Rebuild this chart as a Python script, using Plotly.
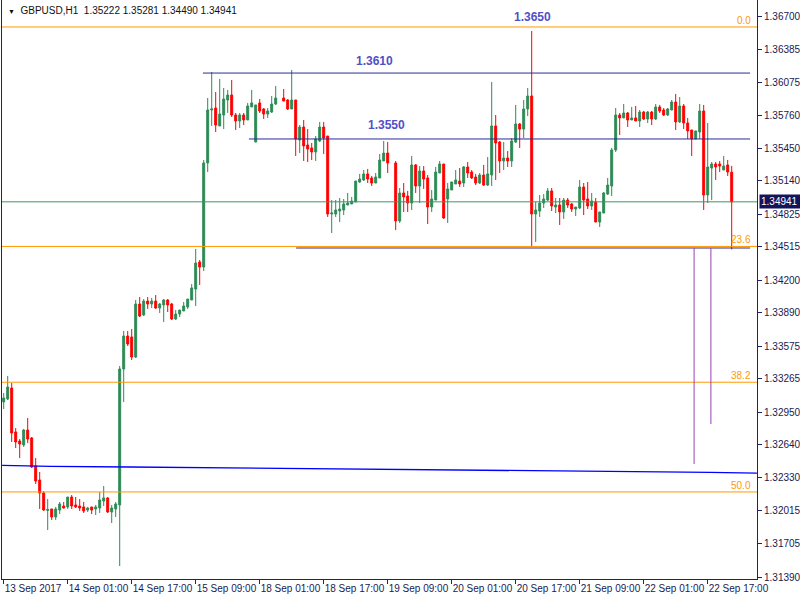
import plotly.graph_objects as go

# ---------------- data (GBPUSD H1) ----------------
opens = [1.33047,1.33075,1.33179,1.32763,1.32677,1.32640,1.32781,1.32706,1.32441,1.32308,
 1.32185,1.32020,1.32034,1.31958,1.32024,1.32062,1.32053,1.32147,1.32072,1.32062,
 1.32053,1.32024,1.32053,1.32034,1.32043,1.32109,1.32138,1.32005,1.32034,1.32072,
 1.33359,1.33671,1.33662,1.33472,1.33974,1.33870,1.34002,1.33974,1.34002,1.33936,
 1.33965,1.34012,1.33974,1.33832,1.33879,1.33908,1.33946,1.34012,1.34116,1.34372,
 1.34324,1.35309,1.35810,1.35829,1.35659,1.35763,1.35905,1.35952,1.35763,1.35706,
 1.35763,1.35716,1.35839,1.35507,1.35877,1.35820,1.35772,1.35791,1.35867,None,
 1.35924,1.35905,1.35820,1.35905,1.35526,1.35649,1.35479,1.35451,1.35413,1.35517,
 1.35649,1.35564,1.34826,1.34826,1.34854,1.34864,1.34911,1.34921,1.34940,1.35129,
 1.35148,1.35205,1.35167,1.35119,1.35167,1.35328,1.35403,None,1.35309,1.34760,
 1.35025,1.34996,1.34930,1.35290,1.35091,1.35233,1.35167,1.34892,1.34958,1.35214,
 1.35299,1.34968,1.35053,1.35110,1.35138,1.35119,1.35271,1.35223,1.35176,1.35119,
 1.35195,1.35100,1.35195,1.35659,1.35507,1.35328,1.35356,1.35328,1.35507,1.35678,
 1.35630,1.35820,1.35943,1.34826,1.34854,1.34930,1.34958,1.35044,1.34892,1.34911,
 1.34845,1.34958,1.34921,1.34873,1.34883,1.35081,1.34968,1.34902,1.34940,1.34750,
 1.34835,1.35015,1.35091,1.35432,1.35763,1.35735,1.35782,1.35716,1.35735,1.35706,
 1.35791,1.35725,1.35791,1.35725,1.35839,1.35810,1.35763,1.35810,1.35886,1.35697,
 1.35848,1.35687,1.35621,1.35536,1.35602,1.35801,1.35006,1.35261,1.35299,1.35299,
 1.35242,1.35290,1.35222]
highs = [1.33132,1.33293,1.33226,1.32800,1.32696,1.32791,1.32895,1.32715,1.32516,1.32384,
 1.32204,1.32128,1.32034,1.32053,1.32100,1.32100,1.32147,1.32166,1.32147,1.32128,
 1.32100,1.32053,1.32053,1.32072,1.32195,1.32251,1.32147,1.32072,1.32100,1.33387,
 1.33719,1.33719,1.33737,1.34012,1.34040,1.34021,1.34040,1.34031,1.34059,1.33984,
 1.34021,1.34021,1.33984,1.33917,1.33917,1.33993,1.34021,1.34163,1.34495,1.34391,
 1.35337,1.35924,1.36170,1.35981,1.36104,1.36019,1.36000,1.36094,1.35782,1.35782,
 1.35782,1.35877,1.36000,1.35858,1.35914,1.35829,1.35829,1.35943,1.36037,None,
 1.36009,1.35914,1.36189,1.35905,1.35668,1.35716,1.35630,1.35498,1.35564,1.35697,
 1.35697,1.35564,1.34958,1.34958,1.34977,1.34968,1.35025,1.34987,1.35138,1.35205,
 1.35242,1.35252,1.35186,1.35214,1.35394,1.35517,1.35507,None,1.35328,1.35072,
 1.35119,1.35044,1.35375,1.35299,1.35280,1.35280,1.35195,1.35053,1.35271,1.35328,
 1.35299,1.35119,1.35129,1.35242,1.35261,1.35280,1.35318,1.35242,1.35205,1.35214,
 1.35290,1.35365,1.36075,1.35763,1.35517,1.35507,1.35422,1.35545,1.35858,1.35687,
 1.35905,1.36019,1.36558,1.34940,1.35006,1.35015,1.35072,1.35072,1.34977,1.34977,
 1.34977,1.34977,1.34930,1.34892,1.35148,1.35119,1.35129,1.35025,1.34977,1.34845,
 1.35034,1.35167,1.35451,1.35829,1.35782,1.35867,1.35791,1.35839,1.35848,1.35810,
 1.35801,1.35801,1.35801,1.35867,1.35858,1.35829,1.35829,1.35905,1.35962,1.35933,
 1.35867,1.35735,1.35621,1.35612,1.35867,1.35858,1.35687,1.35318,1.35318,1.35328,
 1.35375,1.35337,1.35281]
lows = [1.32980,1.33065,1.32668,1.32611,1.32516,1.32621,1.32658,1.32422,1.32270,1.32034,
 1.32015,1.31835,1.31930,1.31930,1.31986,1.32038,1.32034,1.32034,1.32043,1.32015,
 1.31996,1.32005,1.31986,1.31977,1.31996,1.32062,1.31996,1.31901,1.31958,1.31494,
 1.33047,1.33577,1.33444,1.33463,1.33851,1.33860,1.33927,1.33936,1.33927,1.33889,
 1.33804,1.33898,1.33823,1.33823,1.33851,1.33908,1.33927,1.34012,1.33955,1.34154,
 1.34286,1.35223,1.35659,1.35602,1.35659,1.35630,1.35782,1.35744,1.35621,1.35640,
 1.35668,1.35716,1.35839,1.35507,1.35782,1.35725,1.35735,1.35782,1.35858,None,
 1.35895,1.35810,1.35820,1.35375,1.35403,1.35328,1.35318,1.35337,1.35328,1.35507,
 1.35394,1.34798,1.34646,1.34798,1.34750,1.34816,1.34911,1.34921,1.34940,1.35119,
 1.35138,1.35119,1.35091,1.35119,1.35167,1.35328,1.35214,None,1.34674,1.34741,
 1.34845,1.34845,1.34864,1.35025,1.34930,1.35063,1.34731,1.34845,1.34958,1.35214,
 1.34779,1.34741,1.35053,1.35110,1.35081,1.35081,1.35167,1.35157,1.35100,1.35110,
 1.35091,1.35091,1.35091,1.35148,1.35214,1.35242,1.35271,1.35271,1.35498,1.35451,
 1.35545,1.35753,1.34514,1.34561,1.34798,1.34883,1.34949,1.34854,1.34835,1.34722,
 1.34779,1.34883,1.34845,1.34807,1.34873,1.34816,1.34873,1.34864,1.34750,1.34703,
 1.34835,1.35006,1.34996,1.35413,1.35574,1.35735,1.35649,1.35716,1.35706,1.35649,
 1.35716,1.35687,1.35668,1.35716,1.35782,1.35753,1.35753,1.35810,1.35621,1.35687,
 1.35630,1.35536,1.35375,1.35536,1.35536,1.34864,1.34930,1.34958,1.35148,1.35223,
 1.35242,1.35186,1.34490]
closes = [1.33084,1.33188,1.32753,1.32668,1.32649,1.32781,1.32696,1.32431,1.32299,1.32185,
 1.32024,1.32029,1.31958,1.32034,1.32081,1.32043,1.32147,1.32062,1.32053,1.32043,
 1.32015,1.32043,1.32024,1.32053,1.32119,1.32138,1.32005,1.32043,1.32081,1.33359,
 1.33671,1.33595,1.33472,1.33974,1.33860,1.34002,1.33974,1.34002,1.33936,1.33974,
 1.34012,1.33965,1.33832,1.33879,1.33917,1.33955,1.34021,1.34126,1.34362,1.34324,
 1.35309,1.35810,1.35820,1.35668,1.35772,1.35914,1.35952,1.35763,1.35706,1.35763,
 1.35716,1.35848,1.35877,1.35858,1.35801,1.35772,1.35801,1.35867,1.35924,None,
 1.35895,1.35820,1.35905,1.35536,1.35649,1.35470,1.35441,1.35413,1.35536,1.35649,
 1.35545,1.34826,1.34835,1.34864,1.34873,1.34921,1.34930,1.34949,1.35138,1.35157,
 1.35205,1.35157,1.35119,1.35176,1.35337,1.35403,1.35309,None,1.34760,1.35025,
 1.34987,1.34930,1.35290,1.35091,1.35233,1.35157,1.34892,1.34968,1.35223,1.35299,
 1.34788,1.35063,1.35129,1.35148,1.35110,1.35271,1.35214,1.35167,1.35119,1.35195,
 1.35100,1.35205,1.35659,1.35498,1.35328,1.35356,1.35328,1.35517,1.35678,1.35630,
 1.35820,1.35943,1.34826,1.34864,1.34930,1.34968,1.35044,1.34902,1.34911,1.34845,
 1.34958,1.34911,1.34873,1.34892,1.35081,1.34958,1.34902,1.34949,1.34750,1.34845,
 1.35025,1.35100,1.35432,1.35763,1.35735,1.35782,1.35716,1.35735,1.35706,1.35791,
 1.35725,1.35791,1.35725,1.35839,1.35801,1.35763,1.35820,1.35886,1.35697,1.35848,
 1.35687,1.35612,1.35536,1.35612,1.35801,1.35006,1.35271,1.35299,1.35271,1.35280,
 1.35280,1.35223,1.34941]

tick_bars = [0, 16, 32, 48, 64, 80, 96, 112, 128, 144, 160, 176]
tick_labels = ["13 Sep 2017", "14 Sep 01:00", "14 Sep 17:00", "15 Sep 09:00",
               "18 Sep 01:00", "18 Sep 17:00", "19 Sep 09:00", "20 Sep 01:00",
               "20 Sep 17:00", "21 Sep 09:00", "22 Sep 01:00", "22 Sep 17:00"]
price_ticks = [1.36700, 1.36385, 1.36075, 1.35760, 1.35450, 1.35140, 1.34825, 1.34515,
               1.34200, 1.33890, 1.33575, 1.33265, 1.32950, 1.32640, 1.32330, 1.32015,
               1.31705, 1.31390]

# Fibonacci retracement
fib_high = 1.36596
fib_low = 1.27794
fib_ratios = [0.0, 0.236, 0.382, 0.5]
fib_names = ["0.0", "23.6", "38.2", "50.0"]

# drawn horizontal levels
level_prices = [1.36160, 1.35536, 1.34504]
level_start = [49.8, 61.3, 73.1]
level_end = 186.6
level_texts = ["1.3650", "1.3610", "1.3550"]
level_text_x = [132.3, 92.6, 95.6]
level_text_y = [1.36690, 1.36274, 1.35668]

# moving average (read at breakpoints)
ma_bars = [-0.4, 11.8, 31.6, 74.1, 111.6, 149.1, 176.6, 188.3]
ma_vals = [1.32447, 1.32438, 1.32431, 1.32417, 1.32408, 1.32393, 1.32381, 1.32374]

# purple vertical markers
vmark_bars = [172.6, 176.8]
vmark_top = [1.34504, 1.34504]
vmark_bottom = [1.32460, 1.32838]

symbol = "GBPUSD,H1"
last_price = 1.34941

# ---------------- figure ----------------
X_RANGE = [-0.425, 188.325]
Y_RANGE = [1.313711, 1.368514]
NAVY = "#20206e"
ORANGE = "#FF9900"
LVL = "#2a2a9a"
AXFONT = dict(family="Liberation Sans", size=10, color="#1a1a50")

fig = go.Figure()

# fib lines
for r in fib_ratios:
    p = fib_high - r * (fib_high - fib_low)
    fig.add_trace(go.Scatter(x=X_RANGE, y=[p, p], mode="lines",
                             line=dict(color=ORANGE, width=1), hoverinfo="skip"))
# MA
fig.add_trace(go.Scatter(x=ma_bars, y=ma_vals, mode="lines",
                         line=dict(color="#0000FF", width=1.3), hoverinfo="skip"))
# levels
for p, s in zip(level_prices, level_start):
    fig.add_trace(go.Scatter(x=[s, level_end], y=[p, p], mode="lines",
                             line=dict(color=LVL, width=1), hoverinfo="skip"))
# purple markers
for xb, t, b in zip(vmark_bars, vmark_top, vmark_bottom):
    fig.add_trace(go.Scatter(x=[xb, xb], y=[t, b], mode="lines",
                             line=dict(color="#9A40B8", width=1), hoverinfo="skip"))
# bid line
fig.add_trace(go.Scatter(x=X_RANGE, y=[last_price, last_price], mode="lines",
                         line=dict(color="#3E9464", width=1), hoverinfo="skip"))

idx = [i for i, o in enumerate(opens) if o is not None]
fig.add_trace(go.Candlestick(
    x=idx,
    open=[opens[i] for i in idx], high=[highs[i] for i in idx],
    low=[lows[i] for i in idx], close=[closes[i] for i in idx],
    increasing=dict(line=dict(color="#2E8B57", width=1), fillcolor="#2E8B57"),
    decreasing=dict(line=dict(color="#FF0000", width=1), fillcolor="#FF0000"),
    whiskerwidth=0, hoverinfo="skip"))

annotations = []
for txt, xx, yy in zip(level_texts, level_text_x, level_text_y):
    annotations.append(dict(x=xx, y=yy, xref="x", yref="y", text="<b>" + txt + "</b>",
                            showarrow=False, font=dict(family="Liberation Sans", size=12,
                                                       color="#5050C8")))
for r, nm in zip(fib_ratios, fib_names):
    p = fib_high - r * (fib_high - fib_low)
    annotations.append(dict(x=187.3, y=p, xref="x", yref="y", text=nm, showarrow=False,
                            xanchor="right", yanchor="bottom", yshift=-1,
                            font=dict(family="Liberation Sans", size=10, color=ORANGE)))
annotations.append(dict(
    x=0.0055, y=1 - 11 / 579, xref="paper", yref="paper", xanchor="left", yanchor="middle",
    text='<span style="font-size:7px">▼</span>\u00a0\u00a0' + symbol + "\u00a0\u00a0"
         + "\u00a0".join(f"{v:.5f}" for v in [opens[-1], highs[-1], lows[-1], closes[-1]]),
    showarrow=False, font=dict(family="Liberation Sans", size=10, color="#111111")))
annotations.append(dict(
    x=1, y=last_price, xref="paper", yref="y", xanchor="left", yanchor="middle",
    xshift=2, text=f"{last_price:.5f}\u00a0", showarrow=False, bgcolor="#14145A",
    borderpad=1, font=dict(family="Liberation Sans", size=10, color="white")))

fig.update_layout(
    width=800, height=600,
    margin=dict(l=2, r=43, t=0, b=21, autoexpand=False),
    paper_bgcolor="white", plot_bgcolor="white",
    showlegend=False,
    annotations=annotations,
    xaxis=dict(range=X_RANGE, showgrid=False, zeroline=False,
               tickmode="array", tickvals=tick_bars, ticktext=tick_labels,
               ticks="outside", ticklen=4, tickcolor=NAVY, tickangle=0,
               showline=True, linecolor=NAVY, linewidth=1,
               ticklabelposition="outside right", automargin=False,
               tickfont=AXFONT,
               rangeslider=dict(visible=False), fixedrange=True),
    yaxis=dict(range=Y_RANGE, side="right", showgrid=False, zeroline=False,
               tickmode="array", tickvals=price_ticks, tickformat=".5f",
               ticks="outside", ticklen=4, tickcolor=NAVY, automargin=False,
               showline=True, linecolor=NAVY, linewidth=1, mirror=True,
               tickfont=AXFONT, fixedrange=True),
)

fig.write_html("out.html", config={"displayModeBar": False},
               post_script="document.body.style.margin='0px';document.body.style.overflow='hidden';")
